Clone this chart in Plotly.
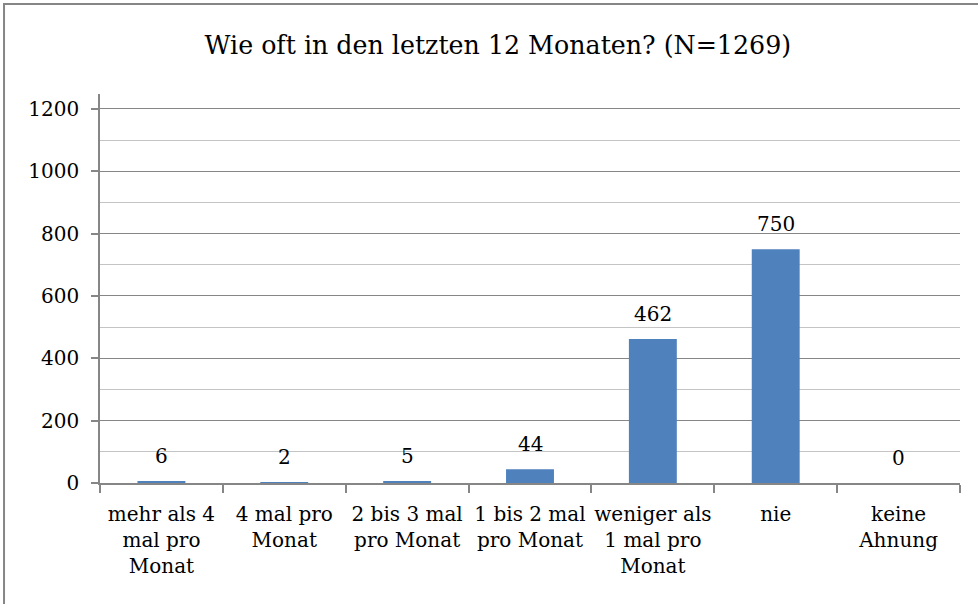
import plotly.graph_objects as go

# Survey answers: how often in the last 12 months
categories = [
    "mehr als 4 mal pro Monat",
    "4 mal pro Monat",
    "2 bis 3 mal pro Monat",
    "1 bis 2 mal pro Monat",
    "weniger als 1 mal pro Monat",
    "nie",
    "keine Ahnung",
]
tick_labels = [
    "mehr als 4<br>mal pro<br>Monat",
    "4 mal pro<br>Monat",
    "2 bis 3 mal<br>pro Monat",
    "1 bis 2 mal<br>pro Monat",
    "weniger als<br>1 mal pro<br>Monat",
    "nie",
    "keine<br>Ahnung",
]
counts = [6, 2, 5, 44, 462, 750, 0]

FONT = "DejaVu Serif"
AXIS_GREY = "#868686"

fig = go.Figure(
    go.Bar(
        x=categories,
        y=counts,
        marker=dict(color="#4F81BD", line=dict(width=0)),
        hoverinfo="x+y",
    )
)

# value labels above each bar
for cat, val in zip(categories, counts):
    fig.add_annotation(
        x=cat, y=val, text=str(val), showarrow=False,
        yanchor="bottom", yshift=11,
        font=dict(family=FONT, size=20, color="black"),
    )

# outer chart frame
fig.add_shape(
    type="rect", xref="paper", yref="paper",
    x0=-0.1116, x1=1.2, y0=-0.6, y1=1.2314,
    line=dict(color=AXIS_GREY, width=2), layer="below",
)

fig.update_layout(
    width=978, height=604,
    margin=dict(l=100, r=18, t=94, b=121),
    paper_bgcolor="white", plot_bgcolor="white",
    font=dict(family=FONT, size=20, color="black"),
    showlegend=False,
    bargap=0.61,
    title=dict(
        text="Wie oft in den letzten 12 Monaten? (N=1269)",
        font=dict(family=FONT, size=25.3, color="black"),
        x=0.509, xref="container", xanchor="center",
        y=0.925, yref="container", yanchor="middle",
    ),
    xaxis=dict(
        type="category",
        tickvals=categories, ticktext=tick_labels,
        tickangle=0, automargin=False,
        showline=True, linecolor=AXIS_GREY, linewidth=1.5,
        ticks="outside", tickson="boundaries", ticklen=8,
        tickcolor=AXIS_GREY, tickwidth=1.5,
        ticklabelstandoff=12,
        showgrid=False, zeroline=False,
        tickfont=dict(family=FONT, size=20, color="black"),
    ),
    yaxis=dict(
        range=[0, 1248], tick0=0, dtick=200, automargin=False,
        showline=True, linecolor=AXIS_GREY, linewidth=1.5,
        ticks="outside", ticklen=7, tickcolor=AXIS_GREY, tickwidth=1.5,
        ticklabelstandoff=8,
        showgrid=True, gridcolor=AXIS_GREY, gridwidth=1.3,
        zeroline=False,
        minor=dict(dtick=100, showgrid=True, gridcolor="#C4C4C4", gridwidth=1.3, ticks=""),
        tickfont=dict(family=FONT, size=20, color="black"),
    ),
)

fig.write_html("out.html")
